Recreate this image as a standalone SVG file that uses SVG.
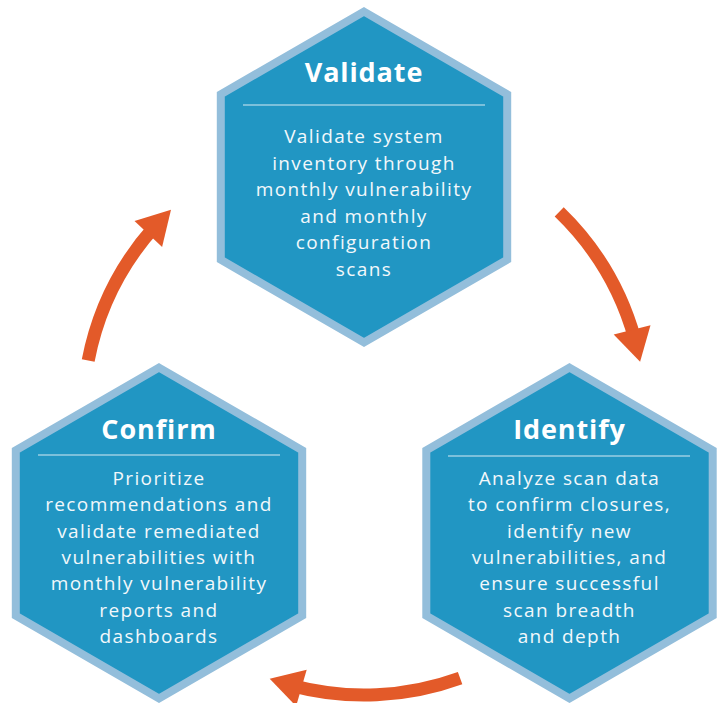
<svg xmlns="http://www.w3.org/2000/svg" width="719" height="703" viewBox="0 0 719 703">
<defs>
<style>
.hex{fill:#2196C3;stroke:#93BEDB;stroke-width:8;stroke-linejoin:miter}
.title{font-family:"Open Sans","Liberation Sans",sans-serif;font-weight:700;font-size:27px;letter-spacing:0.9px;fill:#FFFFFF;text-anchor:middle}
.body{font-family:"Open Sans","Liberation Sans",sans-serif;font-weight:400;font-size:19px;letter-spacing:1.4px;fill:#F2F8FB;text-anchor:middle}
.rule{stroke:#D6EAF4;stroke-width:1.2}
.shaft{fill:none;stroke:#E35A29;stroke-width:13;stroke-linecap:butt}
.head{fill:#E35A29}
</style>
</defs>
<rect width="719" height="703" fill="#FFFFFF"/>
<g id="connectors">
<path class="shaft" d="M 559.2 211.9 A 281 281 0 0 1 634.8 338.9"/>
<polygon class="head" points="640.1,361.8 650.5,325.2 613.7,334.4"/>
<path class="shaft" d="M 460.1 678.1 A 281 281 0 0 1 291.9 685.6"/>
<polygon class="head" points="269.7,678.7 306.7,669.7 296.1,706.2"/>
<path class="shaft" d="M 88.2 360.4 A 281 281 0 0 1 154.8 226.4"/>
<polygon class="head" points="171.0,209.8 162.1,246.9 134.5,220.9"/>
</g>
<g id="validate">
<polygon class="hex" points="364,11.6 507.2,94.3 507.2,259.7 364,342.4 220.8,259.7 220.8,94.3"/>
<text class="title" x="364" y="82">Validate</text>
<line class="rule" x1="243" y1="105" x2="485" y2="105"/>
<text class="body" x="364" y="143">Validate system</text>
<text class="body" x="364" y="169.5">inventory through</text>
<text class="body" x="364" y="196">monthly vulnerability</text>
<text class="body" x="364" y="222.5">and monthly</text>
<text class="body" x="364" y="249">configuration</text>
<text class="body" x="364" y="275.5">scans</text>
</g>
<g id="confirm">
<polygon class="hex" points="159,367.6 302.2,450.3 302.2,615.7 159,698.4 15.8,615.7 15.8,450.3"/>
<text class="title" x="159" y="439">Confirm</text>
<line class="rule" x1="38" y1="455" x2="280" y2="455"/>
<text class="body" x="159" y="485">Prioritize</text>
<text class="body" x="159" y="511.3">recommendations and</text>
<text class="body" x="159" y="537.7">validate remediated</text>
<text class="body" x="159" y="564">vulnerabilities with</text>
<text class="body" x="159" y="590.3">monthly vulnerability</text>
<text class="body" x="159" y="616.7">reports and</text>
<text class="body" x="159" y="643">dashboards</text>
</g>
<g id="identify">
<polygon class="hex" points="569.5,367.6 712.7,450.3 712.7,615.7 569.5,698.4 426.3,615.7 426.3,450.3"/>
<text class="title" x="569.5" y="439">Identify</text>
<line class="rule" x1="448" y1="456" x2="690" y2="456"/>
<text class="body" x="569.5" y="485">Analyze scan data</text>
<text class="body" x="569.5" y="511.3">to confirm closures,</text>
<text class="body" x="569.5" y="537.7">identify new</text>
<text class="body" x="569.5" y="564">vulnerabilities, and</text>
<text class="body" x="569.5" y="590.3">ensure successful</text>
<text class="body" x="569.5" y="616.7">scan breadth</text>
<text class="body" x="569.5" y="643">and depth</text>
</g>
</svg>
